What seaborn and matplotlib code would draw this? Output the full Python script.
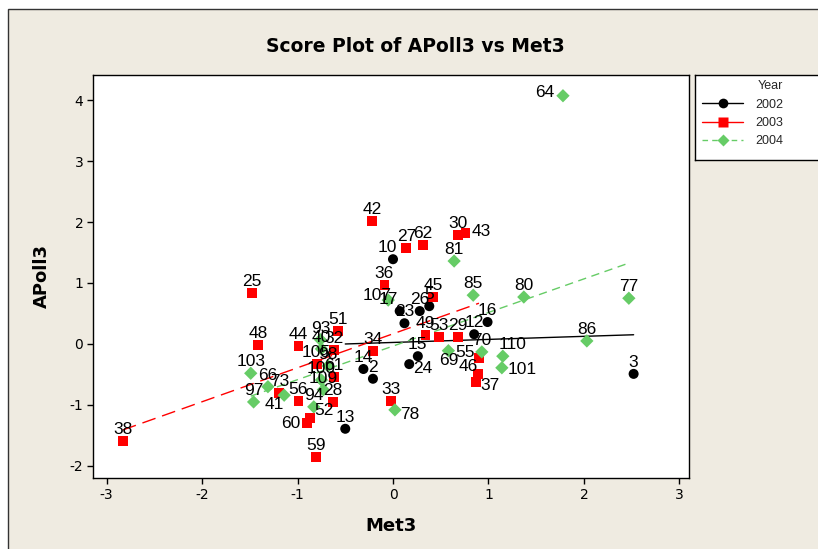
import numpy as np
import pandas as pd
import matplotlib
matplotlib.use("Agg")
import matplotlib.pyplot as plt
import seaborn as sns
from matplotlib.lines import Line2D
from matplotlib.patches import Rectangle

# ---------------- data ----------------
years = [2002, 2003, 2004]

labels_2002 = ["10", "3", "13", "14", "2", "15", "24", "17", "23", "26", "5", "16", "12"]
met3_2002 = [0.00, 2.52, -0.50, -0.31, -0.21, 0.26, 0.17, 0.07, 0.12, 0.28, 0.38, 0.99, 0.85]
apoll3_2002 = [1.39, -0.49, -1.39, -0.41, -0.57, -0.20, -0.33, 0.54, 0.34, 0.54, 0.62, 0.36, 0.16]

labels_2003 = ["38", "25", "48", "44", "51", "32", "105", "61", "28", "56", "73", "52", "60",
               "59", "34", "33", "42", "27", "62", "30", "43", "36", "45", "49", "53", "29",
               "55", "46", "37"]
met3_2003 = [-2.83, -1.48, -1.41, -0.99, -0.58, -0.62, -0.80, -0.62, -0.63, -0.99, -1.19, -0.87, -0.90,
             -0.81, -0.21, -0.02, -0.22, 0.14, 0.31, 0.68, 0.76, -0.09, 0.42, 0.34, 0.48, 0.68,
             0.90, 0.89, 0.87]
apoll3_2003 = [-1.59, 0.84, -0.02, -0.03, 0.21, -0.10, -0.33, -0.54, -0.95, -0.93, -0.80, -1.21, -1.30,
               -1.85, -0.11, -0.93, 2.02, 1.57, 1.62, 1.79, 1.82, 0.97, 0.77, 0.15, 0.11, 0.11,
               -0.23, -0.49, -0.62]

labels_2004 = ["64", "77", "86", "80", "85", "81", "107", "69", "70", "110", "101", "78", "93",
               "40", "98", "100", "109", "94", "103", "66", "97", "41"]
met3_2004 = [1.78, 2.47, 2.03, 1.37, 0.84, 0.64, -0.05, 0.58, 0.93, 1.15, 1.14, 0.02, -0.76,
             -0.75, -0.68, -0.75, -0.73, -0.83, -1.49, -1.31, -1.46, -1.14]
apoll3_2004 = [4.07, 0.75, 0.05, 0.77, 0.80, 1.36, 0.72, -0.11, -0.13, -0.20, -0.39, -1.08, 0.07,
               -0.08, -0.36, -0.59, -0.75, -1.03, -0.48, -0.70, -0.95, -0.84]

x_ticks = [-3, -2, -1, 0, 1, 2, 3]
y_ticks = [-2, -1, 0, 1, 2, 3, 4]

df = pd.concat([
    pd.DataFrame({"Met3": met3_2002, "APoll3": apoll3_2002, "label": labels_2002, "Year": 2002}),
    pd.DataFrame({"Met3": met3_2003, "APoll3": apoll3_2003, "label": labels_2003, "Year": 2003}),
    pd.DataFrame({"Met3": met3_2004, "APoll3": apoll3_2004, "label": labels_2004, "Year": 2004}),
], ignore_index=True)

# ---------------- style ----------------
sns.set_theme(style="white")
plt.rcParams["font.family"] = ["DejaVu Sans"]

colors = {2002: "#000000", 2003: "#FF0000", 2004: "#66CC66"}
markers = {2002: "o", 2003: "s", 2004: "D"}
sizes = {2002: 52, 2003: 50, 2004: 46}
dashes = {2002: (None, None), 2003: (10, 5), 2004: (6, 4)}

fig = plt.figure(figsize=(8.18, 5.49), dpi=100)
fig.patch.set_facecolor("white")
W, H = 818.0, 549.0
fig.add_artist(Rectangle((8 / W, -0.05), 1.2, 1 - 9 / H + 0.05, transform=fig.transFigure,
                         facecolor="#EFEBE1", edgecolor="#333333", lw=1.0, zorder=-10))

ax = fig.add_axes([93 / W, 1 - 478 / H, (689 - 93) / W, (478 - 75) / H])
ax.set_facecolor("white")

for yr in years:
    sub = df[df["Year"] == yr]
    line_kws = dict(color=colors[yr], lw=1.0, zorder=2)
    if yr != 2002:
        line_kws["dashes"] = dashes[yr]
    sns.regplot(data=sub, x="Met3", y="APoll3", scatter=False, ci=None, truncate=True,
                ax=ax, line_kws=line_kws)
    sns.scatterplot(data=sub, x="Met3", y="APoll3", marker=markers[yr], color=colors[yr],
                    s=sizes[yr], edgecolor="none", linewidth=0, ax=ax, zorder=3, legend=False)

# point labels
offsets = {
    ("2004", "64"): (-6, 2, "right", "center"),
    ("2004", "41"): (-7, -7, "center", "center"),
    ("2003", "52"): (3, 5, "left", "center"),
    ("2003", "60"): (-5, 0, "right", "center"),
    ("2002", "10"): (-4, 3, "center", "bottom"),
    ("2004", "107"): (-8, 3, "center", "center"),
    ("2003", "43"): (4, 1, "left", "center"),
    ("2004", "101"): (4, -1, "left", "center"),
    ("2004", "110"): (7, 3, "center", "bottom"),
    ("2004", "78"): (4, -3, "left", "center"),
    ("2003", "37"): (3, -3, "left", "center"),
    ("2003", "46"): (-7, 5, "center", "center"),
    ("2003", "55"): (-3, 4, "right", "center"),
    ("2004", "69"): (0, -7, "center", "center"),
    ("2002", "24"): (3, -3, "left", "center"),
    ("2002", "17"): (-8, 3, "center", "bottom"),
}
for _, r in df.iterrows():
    dx, dy, ha, va = offsets.get((str(r["Year"]), r["label"]), (0, 3, "center", "bottom"))
    ax.annotate(r["label"], (r["Met3"], r["APoll3"]), xytext=(dx, dy), textcoords="offset points",
                ha=ha, va=va, fontsize=12.5, family=["Liberation Sans", "DejaVu Sans"],
                color="black", zorder=5)

ax.set_xlim(-3.142, 3.10)
ax.set_ylim(-2.197, 4.41)
ax.set_xticks(x_ticks)
ax.set_yticks(y_ticks)
ax.set_xticklabels([str(v) for v in x_ticks])
ax.set_yticklabels([str(v) for v in y_ticks])
ax.tick_params(axis="both", which="both", direction="out", length=4, width=1, color="black",
               labelsize=10, labelcolor="black", bottom=True, left=True, pad=3)
for s in ax.spines.values():
    s.set_color("black")
    s.set_linewidth(1.0)
ax.grid(False)

ax.set_xlabel("Met3", fontsize=13, fontweight="bold", color="black")
ax.set_ylabel("APoll3", fontsize=13, fontweight="bold", color="black", va="center")
ax.xaxis.set_label_coords(0.5, -0.097)
ax.yaxis.set_label_coords(-0.0856, 0.5)

fig.text(415 / W, 1 - 47 / H, "Score Plot of APoll3 vs Met3", ha="center", va="center",
         fontsize=13.5, fontweight="bold", color="black")

# legend box
lax = fig.add_axes([695 / W, 1 - 160 / H, 140 / W, 85 / H])
lax.set_facecolor("white")
lax.set_xticks([])
lax.set_yticks([])
for s in lax.spines.values():
    s.set_color("black")
    s.set_linewidth(1.0)
handles = [
    Line2D([], [], color=colors[2002], marker="o", ls="-", lw=1, ms=7, mec="none"),
    Line2D([], [], color=colors[2003], marker="s", ls="-", lw=1, ms=7, mec="none"),
    Line2D([], [], color=colors[2004], marker="D", ls=(0, (4, 3)), lw=1, ms=6.5, mec="none"),
]
leg = lax.legend(handles, [str(y) for y in years], loc="upper left", bbox_to_anchor=(0.05, 0.72),
                 frameon=False, borderpad=0, borderaxespad=0, handlelength=3.3, handletextpad=1.0,
                 prop={"family": "Liberation Sans", "size": 9})
lax.text((770 - 695) / 140, (160 - 86) / 85, "Year", ha="center", va="center",
         fontsize=9, family="Liberation Sans", transform=lax.transAxes)

fig.savefig("out.png", dpi=100, facecolor=fig.get_facecolor())
